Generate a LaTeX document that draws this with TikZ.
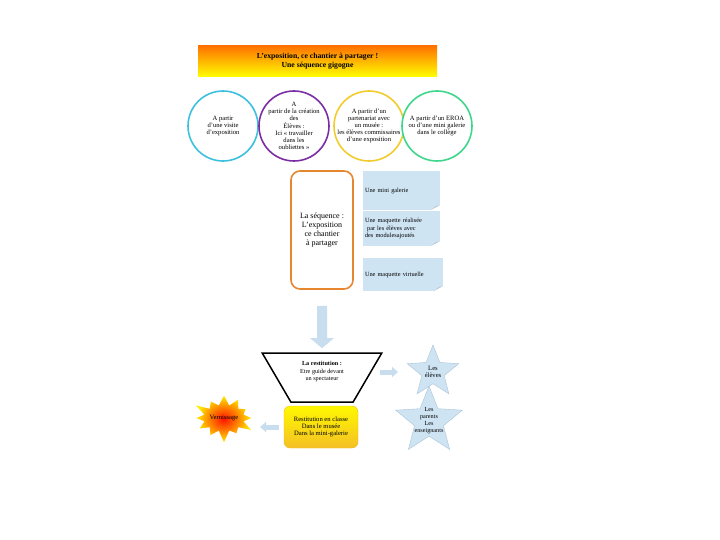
\documentclass[tikz,border=0pt]{standalone}
\usepackage{fontspec}
\setmainfont{Liberation Serif}
\usepackage{tikz}
\usetikzlibrary{arrows.meta, positioning, shapes.geometric, shapes.symbols}
\definecolor{SkyRing}{HTML}{3CC0DD}
\definecolor{PlumRing}{HTML}{7B2DA3}
\definecolor{GoldRing}{HTML}{F2CB2C}
\definecolor{MintRing}{HTML}{3ED68C}
\definecolor{Paper}{HTML}{CFE4F3}
\definecolor{Flame}{HTML}{E6862E}
\definecolor{Pale}{HTML}{C8DEEE}
\definecolor{StarEdge}{HTML}{A9C3D8}

\begin{document}
\begin{tikzpicture}[
        x=1pt, y=-1pt,
        font=\fontsize{6.6}{7.2}\selectfont,
        ring/.style={circle, line width=1.6pt, minimum size=70pt, inner sep=-8pt, align=center, fill=white},
        note/.style={rectangle, fill=Paper, minimum width=77pt, text width=73pt, inner sep=2pt, align=left,
          font=\fontsize{6.3}{7.6}\selectfont,
          path picture={
            \fill[white] ([xshift=-9pt]path picture bounding box.south east) -- (path picture bounding box.south east)
              -- ([yshift=5pt]path picture bounding box.south east) -- cycle;
            \fill[Paper!75!gray] ([xshift=-9pt]path picture bounding box.south east) -- ([yshift=5pt]path picture bounding box.south east)
              -- ([xshift=-4pt,yshift=4pt]path picture bounding box.south east) -- cycle;}},
        starbox/.style={star, star points=5, star point ratio=2.3, fill=Paper, draw=StarEdge, inner sep=-3pt, align=center},
        blockarr/.style={-{Triangle[width=23pt,length=10pt]}, line width=10pt, color=Pale},
        smallarr/.style={-{Triangle[width=10pt,length=6pt]}, line width=5pt, color=Pale}
      ]
        \useasboundingbox (0,0) rectangle (720,540);

        \node[minimum width=239pt, minimum height=31pt, top color=orange!90!red, bottom color=yellow,
          align=center, font=\fontsize{7.7}{9}\selectfont\bfseries] (title) at (317.5,61.5)
          {L'exposition, ce chantier à partager !\\Une séquence gigogne};

        \node[ring, draw=SkyRing] (visite) at (223,126) {A partir\\d'une visite\\d'exposition};
        \node[ring, draw=PlumRing] (eleves) at (294,126) {A\\partir de la création\\des\\Élèves :\\Ici « travailler\\dans les\\oubliettes »};
        \node[ring, draw=GoldRing] (musee) at (369,126) {A partir d'un\\partenariat avec\\un musée :\\les élèves commissaires\\d'une exposition};
        \node[ring, draw=MintRing] (eroa) at (437,126) {A partir d'un EROA\\ou d'une mini galerie\\dans le collège};

        \node[draw=Flame, line width=1.6pt, rounded corners=9pt, minimum width=62pt, minimum height=118pt,
          align=center, font=\fontsize{8}{9.2}\selectfont] (seq) at (322,230)
          {La séquence :\\L'exposition\\ce chantier\\à partager};

        \node[note, minimum height=39pt] (galerie) at (401.5,190.5) {Une mini galerie\\[4pt]};
        \node[note, minimum height=35pt] (maquette) at (401.5,228.5) {Une maquette réalisée\\\ par les élèves avec\\des modulesajoutés};
        \node[note, minimum height=33pt, minimum width=80pt, text width=76pt] (virtuelle) at (403,274.5) {Une maquette virtuelle};

        \node[trapezium, shape border rotate=180, trapezium stretches=true, trapezium angle=59,
          draw, line width=1.5pt, fill=white, minimum width=120pt, minimum height=49pt, align=center,
          font=\fontsize{6.2}{7.2}\selectfont] (restit) at (322,377.5)
          {\textbf{La restitution :}\\Etre guide devant\\un spectateur\\[6pt]};

        \node[rounded corners=6pt, draw=GoldRing!70!orange, top color=yellow!95!orange, bottom color=GoldRing!85!orange,
          minimum width=74pt, minimum height=42pt, align=center] (classe) at (321,427)
          {Restitution en classe\\Dans le musée\\Dans la mini-galerie};

        \node[starbox, minimum size=54pt] (stara) at (433,372) {Les\\élèves};
        \node[starbox, minimum size=70pt, inner sep=-5pt, font=\fontsize{6.2}{7}\selectfont] (starb) at (429,421)
          {Les\\parents\\Les\\enseignants};

        \node[starburst, starburst points=12, starburst point height=13pt, inner color=red!85!orange,
          outer color=yellow!85!orange, minimum width=62pt, minimum height=52pt, inner sep=0pt] (vern) at (224,418) {Vernissage};

        \draw[blockarr, shorten <=16pt, shorten >=4pt] (seq.south) -- (restit.north);
        \draw[smallarr, shorten <=12pt, shorten >=35pt] (restit.east |- stara.center) -- (stara.center);
        \draw[smallarr, shorten <=5pt, shorten >=36pt] (classe.west) -- (classe.west -| vern.center);
      \end{tikzpicture}
\end{document}
